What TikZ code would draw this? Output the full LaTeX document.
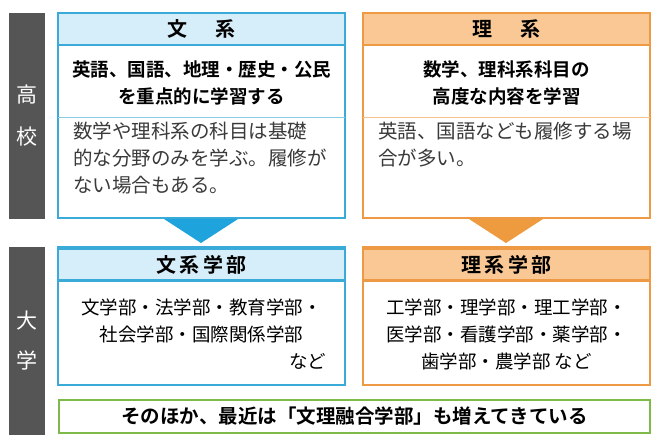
\documentclass[tikz,border=0pt]{standalone}
\usepackage{fontspec}
\setmainfont{Noto Sans CJK JP}
\newfontfamily\boldjp{Noto Sans CJK JP Bold}
\usetikzlibrary{positioning}

\definecolor{bunblue}{HTML}{3AAAD8}
\definecolor{bunfill}{HTML}{D6EEF9}
\definecolor{bunarrow}{HTML}{1FA3DC}
\definecolor{riorange}{HTML}{EE9A45}
\definecolor{rifill}{HTML}{F9C894}
\definecolor{riarrow}{HTML}{EE9A3E}
\definecolor{sonogreen}{HTML}{7DBA4A}
\definecolor{barfill}{HTML}{555555}
\definecolor{bodytext}{HTML}{3A3A3A}

\tikzset{
  sidebar/.style={fill=barfill, text=white, minimum width=36pt, inner sep=0pt,
    font=\fontsize{21}{30}\selectfont, align=center},
  headbox/.style={draw=#1, line width=2.4pt, minimum width=287pt, minimum height=32pt,
    inner sep=0pt, font=\boldjp\fontsize{20}{22}\selectfont},
  keybox/.style={minimum width=287pt, minimum height=72pt, inner sep=0pt, align=center,
    font=\boldjp\fontsize{18.5}{27}\selectfont},
  notebox/.style={text width=270pt, inner sep=0pt, align=left, text=bodytext,
    font=\fontsize{19.5}{27}\selectfont},
  facbox/.style={minimum width=287pt, minimum height=103pt, inner sep=0pt, align=center,
    font=\fontsize{18.5}{27}\selectfont},
}

\begin{document}
\begin{tikzpicture}[x=1pt,y=-1pt]
  \useasboundingbox (0,0) rectangle (660,443);

  % side bars
  \node[sidebar, minimum height=206pt] (koko) at (27,116) {高\\[12pt]校};
  \node[sidebar, minimum height=188pt] (daigaku) at (27,341) {大\\[10pt]学};

  % ================================
  % high school

  % bunkei
  \draw[bunblue, line width=2.4pt, fill=white] (58,13) rectangle (345,218);
  \node[headbox=bunblue, fill=bunfill] (bunhead) at (201.5,29) {文\hspace{1.4em}系};
  \node[keybox] (bunkey) at (201.5,83) {英語、国語、地理・歴史・公民\\を重点的に学習する};
  \draw[bunblue!60, line width=0.6pt] (58,117) -- (345,117);
  \node[notebox, anchor=north west] (bunnote) at (73,122)
    {数学や理科系の科目は基礎\\的な分野のみを学ぶ。履修が\\ない場合もある。};

  % rikei
  \draw[riorange, line width=2.4pt, fill=white] (363,13) rectangle (650,218);
  \node[headbox=riorange, fill=rifill] (rihead) at (506.5,29) {理\hspace{1.4em}系};
  \node[keybox] (rikey) at (506.5,83) {数学、理科系科目の\\高度な内容を学習};
  \draw[riorange!60, line width=0.6pt] (363,117) -- (650,117);
  \node[notebox, anchor=north west] (rinote) at (378,122)
    {英語、国語なども履修する場\\合が多い。};

  % arrows
  \fill[bunarrow] (164,219) -- (238,219) -- (201,243) -- cycle;
  \fill[riarrow] (469,219) -- (543,219) -- (506,243) -- cycle;

  % ================================
  % university

  \draw[bunblue, line width=2.4pt, fill=white] (58,247) rectangle (345,385);
  \node[headbox=bunblue, fill=bunfill] (bunfac) at (201.5,264.5) {文\,系\,学\,部};
  \node[facbox] (bunlist) at (201.5,334)
    {文学部・法学部・教育学部・\\社会学部・国際関係学部\hspace{1em}\\\hspace*{11.5em}など};

  \draw[riorange, line width=2.4pt, fill=white] (363,247) rectangle (650,385);
  \node[headbox=riorange, fill=rifill] (rifac) at (506.5,264.5) {理\,系\,学\,部};
  \node[facbox] (rilist) at (506.5,334)
    {工学部・理学部・理工学部・\\医学部・看護学部・薬学部・\\歯学部・農学部 など};

  % sonota
  \node[draw=sonogreen, line width=2.4pt, minimum width=591pt, minimum height=33pt,
    inner sep=0pt, font=\boldjp\fontsize{19.5}{20}\selectfont] (sonota) at (354.5,416.5)
    {そのほか、最近は「文理融合学部」も増えてきている};

\end{tikzpicture}
\end{document}
